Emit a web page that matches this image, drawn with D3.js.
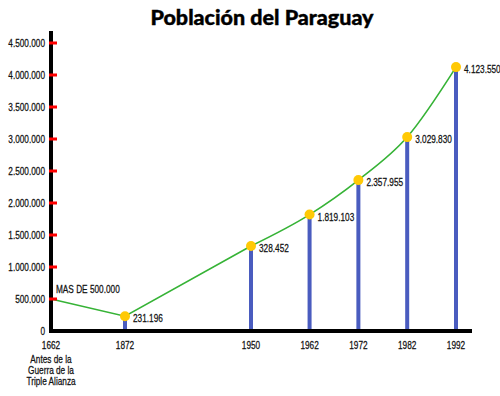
<!DOCTYPE html>
<html>
<head>
<meta charset="utf-8">
<script src="https://cdn.jsdelivr.net/npm/d3@7"></script>
<style>
  body { margin: 0; background: #fff; }
  text { font-family: "Liberation Sans", Arial, sans-serif; font-size: 11px; fill: #111; stroke: #111; stroke-width: 0.25px; }
</style>
</head>
<body>
<div id="chart"></div>
<script>
// data
const years = [1662, 1872, 1950, 1962, 1972, 1982, 1992];
const population = [500000, 231196, 1328452, 1819103, 2357955, 3029830, 4123550];
const pointLabels = ["MAS DE 500.000", "231.196", "328.452", "1.819.103", "2.357.955", "3.029.830", "4.123.550"];
const yTicks = [0, 500000, 1000000, 1500000, 2000000, 2500000, 3000000, 3500000, 4000000, 4500000];
const firstYearNote = ["Antes de la", "Guerra de la", "Triple Alianza"];

const width = 500, height = 396;
const squeeze = 0.75; // condensed look of the original lettering

const svg = d3.select("#chart").append("svg")
    .attr("width", width)
    .attr("height", height);

// x axis is not to scale in the original: piecewise scale
const x = d3.scaleLinear()
    .domain([1662, 1872, 1950, 1992])
    .range([51, 125, 251, 456]);

const y = d3.scaleLinear()
    .domain([0, 4500000])
    .range([331, 43]);

const fmt = d => d3.format(",")(d).replace(/,/g, ".");
const at = (px, py) => `translate(${px},${py}) scale(${squeeze},1)`;

const data = years.map((yr, i) => ({ year: yr, value: population[i], label: pointLabels[i] }));

// title
svg.append("text")
    .attr("x", 262)
    .attr("y", 25)
    .attr("text-anchor", "middle")
    .style("font-family", "Lato, 'DejaVu Sans', sans-serif")
    .style("font-weight", 900)
    .style("font-size", "21.5px")
    .style("fill", "#000")
    .style("stroke", "#000")
    .style("stroke-width", "0.4px")
    .text("Población del Paraguay");

// bars (skip first year)
svg.append("g")
  .selectAll("rect")
  .data(data.slice(1))
  .enter().append("rect")
    .attr("x", d => x(d.year) - 2)
    .attr("y", d => y(d.value))
    .attr("width", 4)
    .attr("height", d => y(0) - y(d.value))
    .attr("fill", "#4a5cbf");

// green line: straight at start, smooth afterwards
const lineStraight = d3.line().x(d => x(d.year)).y(d => y(d.value));
const lineSmooth = d3.line().x(d => x(d.year)).y(d => y(d.value)).curve(d3.curveMonotoneX);
svg.append("path")
    .datum(data.slice(0, 3))
    .attr("d", lineStraight)
    .attr("fill", "none")
    .attr("stroke", "#36b336")
    .attr("stroke-width", 1.6);
svg.append("path")
    .datum(data.slice(2))
    .attr("d", lineSmooth)
    .attr("fill", "none")
    .attr("stroke", "#36b336")
    .attr("stroke-width", 1.6);

// y axis
const yAxis = svg.append("g");
yAxis.append("line")
    .attr("x1", 51).attr("x2", 51)
    .attr("y1", 31).attr("y2", 333)
    .attr("stroke", "#000")
    .attr("stroke-width", 4);
yAxis.selectAll("rect.tick")
  .data(yTicks.slice(1))
  .enter().append("rect")
    .attr("class", "tick")
    .attr("x", 49)
    .attr("y", d => y(d) - 1.5)
    .attr("width", 8)
    .attr("height", 3)
    .attr("fill", "#ff0000");
yAxis.selectAll("text")
  .data(yTicks)
  .enter().append("text")
    .attr("transform", d => at(45, y(d) + 4))
    .attr("text-anchor", "end")
    .text(d => fmt(d));

// x axis
svg.append("line")
    .attr("x1", 49).attr("x2", 472)
    .attr("y1", y(0)).attr("y2", y(0))
    .attr("stroke", "#000")
    .attr("stroke-width", 4);
svg.append("g")
  .selectAll("text")
  .data(years)
  .enter().append("text")
    .attr("transform", d => at(x(d), 349))
    .attr("text-anchor", "middle")
    .text(d => d);
svg.append("g")
  .selectAll("text")
  .data(firstYearNote)
  .enter().append("text")
    .attr("transform", (d, i) => at(x(years[0]), 363 + i * 11))
    .attr("text-anchor", "middle")
    .text(d => d);

// dots
svg.append("g")
  .selectAll("circle")
  .data(data.slice(1))
  .enter().append("circle")
    .attr("cx", d => x(d.year))
    .attr("cy", d => y(d.value))
    .attr("r", 5)
    .attr("fill", "#ffc905");

// value labels
svg.append("g")
  .selectAll("text")
  .data(data)
  .enter().append("text")
    .attr("transform", (d, i) => i === 0
        ? at(x(d.year) + 5, y(d.value) - 6)
        : at(x(d.year) + 8, y(d.value) + 6))
    .text(d => d.label);
</script>
</body>
</html>
